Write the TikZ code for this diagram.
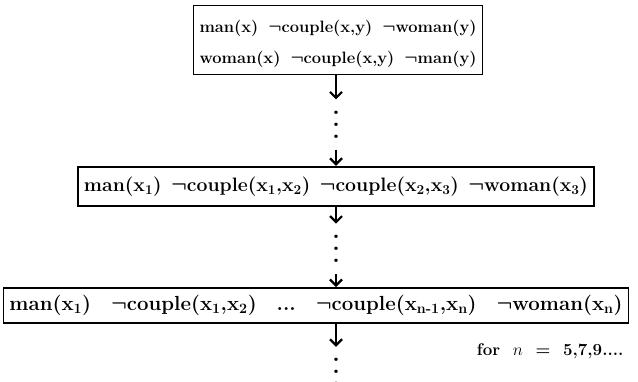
\documentclass[tikz,border=0pt]{standalone}
\usepackage{amsmath}
\usetikzlibrary{positioning, arrows.meta}
\newcommand{\sx}[1]{x$_{\textbf{#1}}$}
\newcommand{\dotcol}{\vbox{\baselineskip=12bp \lineskiplimit=0pt \hbox{.}\hbox{.}\hbox{.}}}
\tikzset{
  clause/.style = {draw, line width=1.8bp, inner xsep=6bp, inner ysep=3bp, align=left, font=\fontsize{19.5}{24}\selectfont\bfseries\boldmath},
  dotsnode/.style = {inner sep=0, minimum height=50bp, font=\fontsize{24}{24}\selectfont\bfseries},
  line/.style = {-{Straight Barb[length=6bp, width=12bp]}, line width=2.2bp},
}
\begin{document}
\begin{tikzpicture}[x=1bp, y=-1bp, node distance=16bp]
  \useasboundingbox (0,0) rectangle (638,381);
  \coordinate (axis) at (336,0);

  % the two starting clauses
  \node[clause, font=\fontsize{16.5}{31}\selectfont\bfseries\boldmath, text width=277bp, minimum height=69bp] (start) at (338,40)
    {\rule{0pt}{20bp}man(x)\hfill$\neg$couple(x,y)\hfill$\neg$woman(y)\\
     woman(x)\hfill$\neg$couple(x,y)\hfill$\neg$man(y)};
  \node[dotsnode, below=24bp of start.south -| axis] (dots1) {\dotcol};
  \node[clause, text width=504bp, minimum height=39bp, below=16bp of dots1] (three)
    {man(\sx1)\hfill$\neg$couple(\sx1,\sx2)\hfill$\neg$couple(\sx2,\sx3)\hfill$\neg$woman(\sx3)};
  \node[dotsnode, below=17bp of three.south -| dots1] (dots2) {\dotcol};
  \node[clause, font=\fontsize{20.5}{24}\selectfont\bfseries\boldmath, text width=613bp, minimum height=35bp, below=13bp of dots2, xshift=-20bp] (chain)
    {man(\sx1)\hfill$\neg$couple(\sx1,\sx2)\hfill...\hfill$\neg$couple(\sx{n-1},\sx{n})\hfill$\neg$woman(\sx{n})};
  \node[dotsnode, below=23bp of chain.south -| dots2] (dots3) {\dotcol};
  \node[anchor=north east, font=\fontsize{17}{20}\selectfont\bfseries] (cond) at (627,340)
    {for\ \ $n$\ \ =\ \ 5,7,9....};

  \draw[line] (start.south -| dots1) -- (dots1);
  \draw[line] (dots1) -- (three.north -| dots1);
  \draw[line] (three.south -| dots2) -- (dots2);
  \draw[line] (dots2) -- (dots2 |- chain.north);
  \draw[line] (dots2 |- chain.south) -- (dots3);

\end{tikzpicture}
\end{document}
